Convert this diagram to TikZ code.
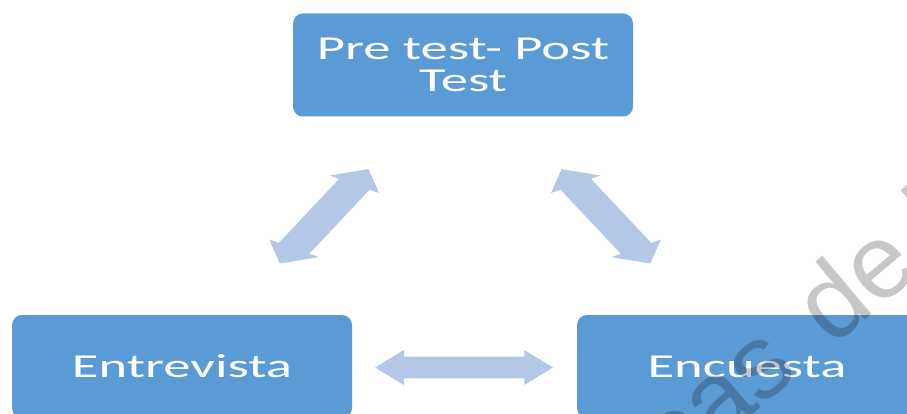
\documentclass[tikz,border=0pt]{standalone}
\usepackage{graphicx}
\usepackage{fontspec}
\setmainfont{Carlito}
\newfontfamily\wmfont{Liberation Sans}
\definecolor{boxblue}{HTML}{5B9BD5}
\definecolor{arrowblue}{HTML}{B4C7E7}
\newcommand{\widetext}[1]{\scalebox{1.63}[1]{#1}}
\newcommand{\blockarrowpath}[1]{%
  \fill[arrowblue] (-54.5,0) -- (-37,-17.5) -- (-37,-10.8) -- (37,-10.8) -- (37,-17.5)
    -- (54.5,0) -- (37,17.5) -- (37,10.8) -- (-37,10.8) -- (-37,17.5) -- cycle;
  \coordinate (#1) at (0,0);}
\begin{document}
\begin{tikzpicture}[x=1pt,y=-1pt,
  box/.style={draw=none, fill=boxblue, rounded corners=10pt, minimum width=340pt,
    minimum height=103pt, inner sep=0pt, text=white,
    font=\fontsize{33.5}{32}\selectfont, align=center},
  wm/.style={font=\wmfont\fontsize{105}{105}\selectfont, text=black, text opacity=0.22,
    inner sep=0pt, anchor=base west, rotate=40}]
\useasboundingbox (0,0) rectangle (907,414);
\clip (0,0) rectangle (907,414);
% boxes
\node[box] (pre) at (463,65) {\widetext{Pre test- Post}\\\widetext{Test}};
\node[box] (ent) at (182,366.5) {\widetext{Entrevista}};
\node[box] (enc) at (747,366.5) {\widetext{Encuesta}};
% block arrows (drawn in unstretched space, then stretched horizontally)
\begin{scope}[xscale=1.63, shift={(198.9,216.3)}, rotate=60]
  \blockarrowpath{arrL}
\end{scope}
\begin{scope}[xscale=1.63, shift={(371.7,216.3)}, rotate=-60]
  \blockarrowpath{arrR}
\end{scope}
\begin{scope}[xscale=1.63, shift={(284.7,367.5)}]
  \blockarrowpath{arrB}
\end{scope}
% watermark
\node[wm] (wmark) at (675.8,478.7) {cas\hspace{12pt} de l};
\end{tikzpicture}
\end{document}
